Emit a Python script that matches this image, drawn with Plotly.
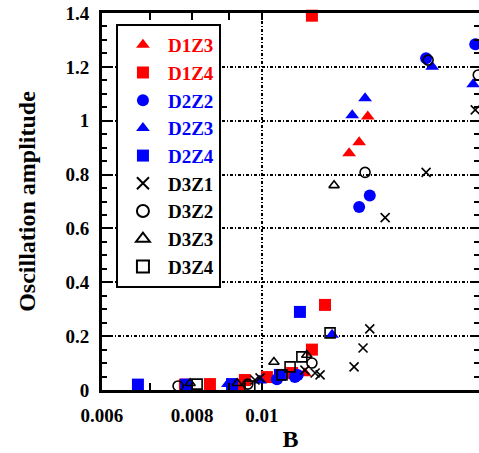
import plotly.graph_objects as go

# ---- data ----
D1Z3_x = [0.01402, 0.01364, 0.01321, 0.01147, 0.00947]
D1Z3_y = [1.016, 0.920, 0.879, 0.062, 0.035]

D1Z4_x = [0.01173, 0.01223, 0.01173, 0.01101, 0.01016, 0.00947, 0.00932, 0.00847, 0.00782]
D1Z4_y = [1.390, 0.316, 0.150, 0.063, 0.048, 0.037, 0.019, 0.022, 0.020]

D2Z2_x = [0.01689, 0.01976, 0.01364, 0.01411, 0.01111, 0.01049, 0.01121]
D2Z2_y = [1.232, 1.284, 0.680, 0.722, 0.048, 0.040, 0.056]

D2Z3_x = [0.01722, 0.01963, 0.01390, 0.01334, 0.01251, 0.00897, 0.00994]
D2Z3_y = [1.200, 1.135, 1.083, 1.020, 0.205, 0.022, 0.035]

D2Z4_x = [0.00673, 0.00785, 0.00909, 0.01059, 0.01129]
D2Z4_y = [0.020, 0.020, 0.022, 0.056, 0.290]

D3Z1_x = [0.01976, 0.01689, 0.01482, 0.01411, 0.01381, 0.01342, 0.01204, 0.01185, 0.01147, 0.00994, 0.00978]
D3Z1_y = [1.040, 0.808, 0.640, 0.227, 0.156, 0.086, 0.056, 0.063, 0.074, 0.045, 0.037]

D3Z2_x = [0.01700, 0.01995, 0.01390, 0.01173, 0.00956, 0.00765]
D3Z2_y = [1.225, 1.170, 0.808, 0.100, 0.022, 0.015]

D3Z3_x = [0.01259, 0.01154, 0.01039, 0.00924, 0.00795]
D3Z3_y = [0.760, 0.130, 0.104, 0.025, 0.025]

D3Z4_x = [0.01243, 0.01136, 0.01094, 0.01066, 0.00962, 0.00813]
D3Z4_y = [0.212, 0.123, 0.086, 0.056, 0.015, 0.022]

x_tickvals = [0.006, 0.007, 0.008, 0.009, 0.01, 0.02]
x_ticktext = ["0.006", "", "0.008", "", "0.01", ""]
x_grid_at = [0.01]

RED = "#ff0000"
BLUE = "#0000ff"
BLACK = "#000000"
FONT = "Liberation Serif"

series = [
    ("D1Z3", D1Z3_x, D1Z3_y, "triangle-up", RED, 12, False),
    ("D1Z4", D1Z4_x, D1Z4_y, "square", RED, 12, False),
    ("D2Z2", D2Z2_x, D2Z2_y, "circle", BLUE, 12, False),
    ("D2Z3", D2Z3_x, D2Z3_y, "triangle-up", BLUE, 12, False),
    ("D2Z4", D2Z4_x, D2Z4_y, "square", BLUE, 12, False),
    ("D3Z1", D3Z1_x, D3Z1_y, "x-thin-open", BLACK, 9, True),
    ("D3Z2", D3Z2_x, D3Z2_y, "circle-open", BLACK, 10, True),
    ("D3Z3", D3Z3_x, D3Z3_y, "triangle-up-open", BLACK, 9, True),
    ("D3Z4", D3Z4_x, D3Z4_y, "square-open", BLACK, 10, True),
]

fig = go.Figure()
for name, xs, ys, sym, col, size, is_open in series:
    marker = dict(symbol=sym, size=size, color=col)
    if is_open:
        marker["line"] = dict(color=col, width=1.6)
    else:
        marker["line"] = dict(width=0)
    fig.add_trace(go.Scatter(
        x=xs, y=ys, mode="markers", cliponaxis=False,
        xaxis="x2" if name == "D3Z4" else "x",
        name=f"<span style='color:{col}'>{name}</span>",
        marker=marker,
    ))

grid_dash = "3px,2px,1px,2px"
x_range = [-2.2218, -1.6990]

fig.update_layout(
    width=479, height=453,
    margin=dict(l=102, r=0, t=13, b=63),
    paper_bgcolor="white", plot_bgcolor="white",
    font=dict(family=FONT, size=19, color="black", weight="bold"),
    showlegend=True,
    legend=dict(
        x=0.037, y=0.971, xanchor="left", yanchor="top",
        bgcolor="white", bordercolor="black", borderwidth=2,
        font=dict(family=FONT, size=19, weight="bold"),
        itemwidth=40, itemsizing="constant", tracegroupgap=0,
    ),
    xaxis=dict(
        type="log", range=x_range,
        tickvals=x_tickvals, ticktext=x_ticktext,
        ticks="inside", ticklen=7, tickwidth=2, tickcolor="black",
        showline=True, linewidth=3, linecolor="black", mirror="ticks",
        showgrid=False, zeroline=False, automargin=False,
        ticklabelstandoff=6,
        title=dict(text="B", font=dict(size=24, family=FONT, weight="bold"), standoff=6),
    ),
    xaxis2=dict(
        type="log", range=x_range, overlaying="x", anchor="y", matches="x",
        tickvals=x_grid_at, showticklabels=False, ticks="",
        showgrid=True, gridcolor="black", gridwidth=2, griddash=grid_dash,
        showline=False, zeroline=False, automargin=False,
    ),
    yaxis=dict(
        range=[0, 1.4], dtick=0.2, tick0=0,
        ticks="inside", ticklen=8, tickwidth=2, tickcolor="black",
        minor=dict(dtick=0.05, ticks="inside", ticklen=5, tickwidth=2, tickcolor="black"),
        showline=True, linewidth=3, linecolor="black", mirror="ticks",
        showgrid=True, gridcolor="black", gridwidth=2, griddash=grid_dash,
        zeroline=False, automargin=False,
        ticklabelstandoff=6,
        title=dict(text="Oscillation amplitude", font=dict(size=24, family=FONT, weight="bold"), standoff=24),
    ),
)

fig.write_html("out.html", config={"displayModeBar": False},
               post_script="document.body.style.margin='0';")
